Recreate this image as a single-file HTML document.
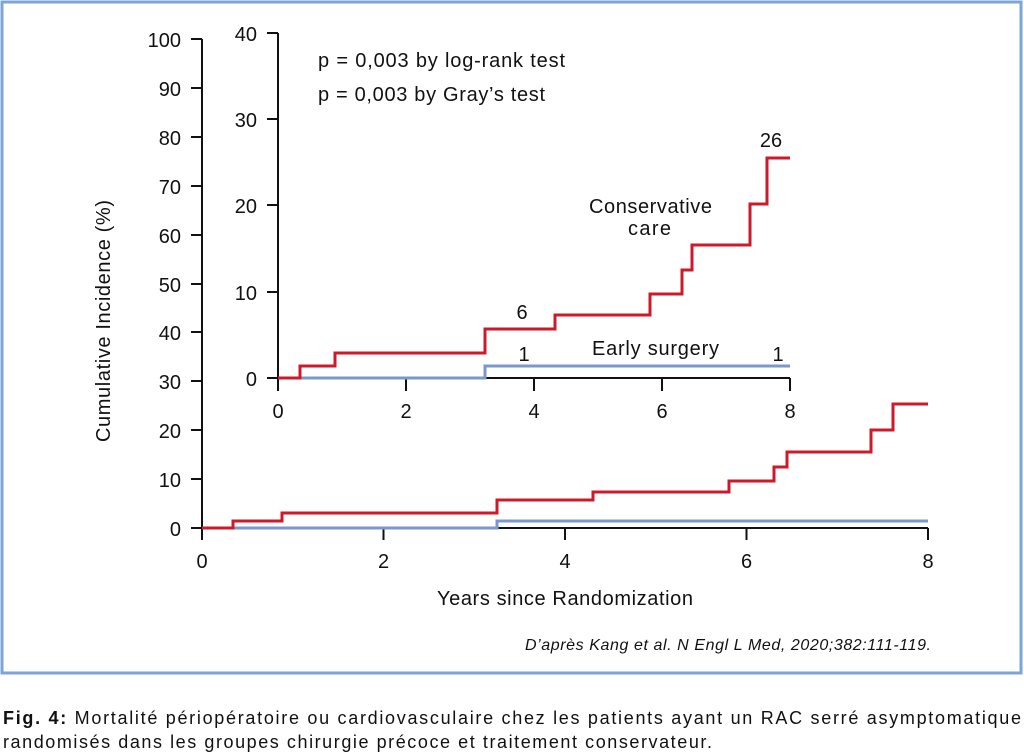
<!DOCTYPE html>
<html><head><meta charset="utf-8"><style>
html,body{margin:0;padding:0;background:#fff;}
svg{display:block;font-family:"Liberation Sans",sans-serif;}
</style></head><body>
<svg width="1024" height="754" viewBox="0 0 1024 754" xmlns="http://www.w3.org/2000/svg">
<rect x="2" y="2" width="1019" height="671" fill="#fff" stroke="#7ea3d6" stroke-width="3"/>
<g stroke="#111" stroke-width="2" fill="none">
<path d="M202 39 V528 H928"/>
<path d="M191 39H202 M191 88H202 M191 137H202 M191 186H202 M191 235H202 M191 284H202 M191 332H202 M191 381H202 M191 430H202 M191 479H202 M191 528H202"/>
<path d="M202 528V540 M383.5 528V540 M565 528V540 M746.5 528V540 M928 528V540"/>
<path d="M278 33 V378 H790"/>
<path d="M267 33H278 M267 119H278 M267 205H278 M267 292H278 M267 378H278"/>
<path d="M278 378V391 M406 378V391 M534 378V391 M662 378V391 M790 378V391"/>
</g>
<g fill="none" stroke-width="3">
<path stroke="#7b98cd" d="M300 378 H485 V366 H790"/>
<path stroke="#cc1a2a" d="M278 378 H300 V366 H335 V353 H485 V329 H555 V315 H650 V294 H682 V270 H692 V245 H750 V204 H767 V158 H790"/>
<path stroke="#7b98cd" d="M233 528 H497 V521 H928"/>
<path stroke="#cc1a2a" d="M202 528 H233 V521 H282 V513 H497 V500 H593 V492 H729 V481 H774 V467 H787 V452 H871 V430 H893 V404 H928"/>
</g>
<g fill="#111" font-size="20" text-anchor="end">
<text x="181" y="47">100</text><text x="181" y="96">90</text><text x="181" y="145">80</text>
<text x="181" y="194">70</text><text x="181" y="243">60</text><text x="181" y="292">50</text>
<text x="181" y="340">40</text><text x="181" y="389">30</text><text x="181" y="438">20</text>
<text x="181" y="487">10</text><text x="181" y="536">0</text>
<text x="257" y="41">40</text><text x="257" y="127">30</text><text x="257" y="213">20</text>
<text x="257" y="300">10</text><text x="257" y="386">0</text>
</g>
<g fill="#111" font-size="20" text-anchor="middle">
<text x="202" y="568">0</text><text x="383.5" y="568">2</text><text x="565" y="568">4</text><text x="746.5" y="568">6</text><text x="928" y="568">8</text>
<text x="278" y="418">0</text><text x="406" y="418">2</text><text x="534" y="418">4</text><text x="662" y="418">6</text><text x="790" y="418">8</text>
<text x="771" y="147">26</text>
<text x="522" y="319">6</text>
<text x="524" y="361">1</text>
<text x="778" y="361">1</text>
</g>
<g fill="#111" font-size="20">
<text x="437" y="605" textLength="256">Years since Randomization</text>
<text transform="translate(110,442) rotate(-90)" textLength="242">Cumulative Incidence (%)</text>
<text x="589" y="213" textLength="123">Conservative</text>
<text x="628" y="235" textLength="43">care</text>
<text x="592" y="355" textLength="127">Early surgery</text>
<text x="318" y="67" textLength="247">p = 0,003 by log-rank test</text>
<text x="318" y="101" textLength="227">p = 0,003 by Gray’s test</text>
</g>
<text x="931" y="650" font-size="16" font-style="italic" text-anchor="end" fill="#111" textLength="406">D’après Kang et al. N Engl L Med, 2020;382:111-119.</text>
<g font-size="18" fill="#111">
<text x="3" y="724" textLength="1018"><tspan font-weight="bold">Fig. 4:</tspan> Mortalité périopératoire ou cardiovasculaire chez les patients ayant un RAC serré asymptomatique</text>
<text x="3" y="748" textLength="709">randomisés dans les groupes chirurgie précoce et traitement conservateur.</text>
</g>
</svg>
</body></html>
